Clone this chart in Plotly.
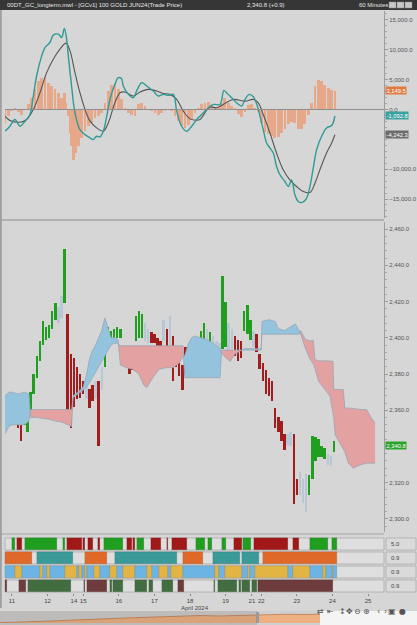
import plotly.graph_objects as go

W, H = 417, 625

# hourly bar index: 0 = start of the Apr 11 session, ~23 bars per trading day
day_ticks = [0, 23, 40, 46, 69, 92, 115, 138, 155, 161, 184, 207, 230]
day_labels = ["11", "12", "14", "15", "16", "17", "18", "19", "21", "22", "23", "24", "25"]

# price bars (every second hour), paint-bar state: g = up, r = down, b = neutral
bar_x = list(range(-4, 210, 2))
bar_low = [2353, 2354, 2356, 2355, 2350, 2343, 2352, 2348, 2358, 2369,
           2378, 2387, 2396, 2399, 2400, 2405, 2410, 2408, 2411, 2419,
           2360, 2350, 2362, 2366, 2367, 2369, 2366, 2361, 2365, 2366,
           2340, 2371, 2384, 2396, 2397, 2398, 2400, 2400, 2385, 2384,
           2380, 2382, 2398, 2400, 2400, 2398, 2397, 2397, 2397, 2392,
           2391, 2398, 2395, 2394, 2376, 2384, 2379, 2371, 2380, 2383,
           2387, 2390, 2391, 2393, 2396, 2394, 2392, 2392, 2389, 2390,
           2394, 2395, 2393, 2394, 2390, 2387, 2389, 2404, 2402, 2399,
           2395, 2392, 2383, 2376, 2369, 2368, 2365, 2350, 2348, 2343,
           2338, 2341, 2340, 2308, 2313, 2313, 2309, 2304, 2313, 2322,
           2332, 2334, 2334, 2333, 2330, 2329, 2337]
bar_high = [2362, 2361, 2363, 2361, 2358, 2352, 2362, 2360, 2370, 2380,
            2390, 2398, 2409, 2406, 2407, 2415, 2419, 2417, 2423, 2449,
            2413, 2391, 2389, 2384, 2380, 2376, 2374, 2372, 2374, 2376,
            2376, 2384, 2398, 2406, 2404, 2405, 2406, 2405, 2395, 2393,
            2389, 2395, 2412, 2415, 2413, 2408, 2405, 2403, 2402, 2400,
            2398, 2410, 2405, 2412, 2401, 2393, 2388, 2385, 2395, 2393,
            2396, 2399, 2398, 2404, 2408, 2405, 2403, 2401, 2398, 2397,
            2434, 2420, 2408, 2405, 2401, 2399, 2398, 2415, 2418, 2410,
            2404, 2402, 2391, 2386, 2382, 2378, 2376, 2361, 2356, 2354,
            2347, 2347, 2348, 2347, 2322, 2326, 2322, 2325, 2324, 2346,
            2345, 2344, 2340, 2339, 2336, 2335, 2343]
bar_state = ("bbggrrgggg" "gggggggbbg" "rrrrrrbrrb" "rbggggggbb" "rrgggbbrrr"
             "rbrbrrrrrb" "bggggbgbbb" "ggbbrrrggg" "brrrrrrrrr" "rbbrrbbbgg" "ggggbbg")
last_price = 2340.8

# ichimoku cloud: span A / span B (shifted 26 bars forward)
cloud_x = [-4.5, -2, 0, 4, 8, 11, 12, 16, 20, 24, 28, 32, 36, 38.5, 39.5, 44, 46, 48, 50,
           52, 54, 56, 58, 60, 62, 64, 66, 68.5, 70, 74, 78, 82, 85, 87, 91, 95, 100, 104,
           108, 110.5, 111.5, 114, 116, 118, 122, 126, 130, 134.4, 135.4, 138, 141, 144,
           148, 150, 156, 161, 161.5, 166, 170, 172, 176, 180, 183, 185.5, 186.5, 189.3,
           192, 194.7, 195.7, 198, 201, 205.4, 207.4, 207.8, 208.7, 214, 215, 217.3,
           220.5, 224.8, 229, 232, 234.5]
span_a = [2368, 2370, 2370, 2369, 2370, 2369, 2356, 2356, 2355.5, 2355, 2354, 2353.5, 2352,
          2351, 2368, 2371, 2373, 2379, 2388, 2393, 2396, 2400, 2404, 2411, 2406, 2400, 2400,
          2399, 2385, 2383.5, 2382.6, 2380, 2374, 2372.4, 2378, 2382.6, 2383.5, 2383.5, 2386,
          2390, 2390, 2397, 2400, 2401, 2400, 2399, 2397, 2394, 2391.5, 2389, 2387, 2391,
          2393, 2394, 2394, 2393.8, 2409, 2410, 2409, 2405, 2404, 2406, 2407.6, 2404, 2402,
          2394.7, 2389, 2385.4, 2383, 2376, 2372.4, 2367.8, 2358, 2356, 2346.5, 2339, 2337,
          2330.8, 2328, 2329.8, 2330.8, 2330.8, 2330.8]
span_b = [2347, 2351, 2352, 2352, 2352, 2354, 2360.4, 2360.4, 2360.4, 2360.4, 2360.4, 2360.4,
          2360.4, 2360.4, 2367, 2370, 2371, 2373, 2375, 2378, 2381, 2384, 2387, 2390, 2393,
          2396, 2397, 2397, 2395.6, 2395.6, 2395.6, 2395.6, 2395.6, 2395.6, 2395.6, 2395.6,
          2395.6, 2395.6, 2395.6, 2395.6, 2378, 2378, 2378, 2378, 2378, 2378, 2378, 2378,
          2393.2, 2393.2, 2393.2, 2393.2, 2393.2, 2393.2, 2393.2, 2393.2, 2402, 2402, 2402,
          2402, 2402, 2402, 2402, 2402, 2404, 2399.3, 2398.4, 2398.4, 2388, 2387.3, 2387.3,
          2387.3, 2387, 2371.5, 2371.5, 2371.5, 2361.3, 2361.3, 2361, 2360.4, 2360.4, 2356,
          2353]

# MACD line, signal line and histogram
macd_x = [-4.5, -1.3, 1.9, 5.2, 8.4, 11.6, 13.8, 15.9, 19.2, 21.3, 24.5, 26.7, 29.9, 32.1,
          33.8, 35.3, 36.4, 38.5, 40.7, 43.9, 47.2, 50.4, 52.5, 54.7, 56.8, 59.0, 61.2, 63.3,
          66.5, 68.7, 70.8, 71.9, 75.2, 78.4, 80.5, 83.8, 87.0, 91.3, 94.5, 97.8, 101.0,
          104.2, 106.4, 109.6, 112.8, 116.1, 119.3, 121.4, 125.7, 130.0, 134.3, 136.9,
          138.6, 141.9, 145.1, 148.3, 150.5, 153.3, 155.9, 158.4, 160.2, 162.3, 164.5,
          166.6, 168.8, 170.9, 173.1, 176.3, 178.5, 180.6, 182.8, 184.9, 187.1, 189.9,
          192.0, 194.6, 196.8, 200.0, 203.2, 206.5, 208.6]
macd_v = [-3650, -2800, -1680, -2800, -1960, -840, 2250, 5610, 8980, 10380, 11220, 12460,
          12630, 12070, 13580, 11790, 8980, 3930, -560, -3370, -4210, -4770, -5050, -4490,
          -4600, -3650, -1120, 1680, 4210, 5330, 5160, 3930, 2530, 1960, 3090, 4490, 3930,
          3090, 2250, 2530, 2360, 2530, -280, -2810, -3650, -2810, -1680, -1120, 0, 840, 840,
          3200, 2810, 1960, 1120, 560, 1680, 2530, 2130, 670, -1120, -3370, -5610, -6450,
          -7300, -9540, -10940, -12070, -12910, -11790, -14310, -15430, -15600, -15040,
          -13470, -9820, -6730, -4490, -3090, -2690, -1092.8]
sig_x = [-4.5, -1.3, 5.2, 9.5, 13.8, 18.1, 22.4, 26.7, 31.0, 34.9, 37.5, 40.7, 43.9, 47.2,
         50.4, 54.7, 59.0, 62.2, 66.5, 69.8, 73.0, 78.4, 82.7, 88.1, 93.5, 97.8, 102.1,
         106.4, 110.7, 115.0, 119.3, 121.4, 127.9, 132.2, 137.5, 142.9, 150.5, 155.9, 159.1,
         162.3, 166.6, 170.9, 175.2, 179.5, 183.8, 188.2, 192.5, 195.7, 198.9, 203.2, 206.5,
         208.6]
sig_v = [-1120, -1850, -2130, -1680, 0, 2810, 6170, 8420, 10100, 11110, 9820, 6170, 2810, 0,
         -1960, -3090, -3650, -2250, 1120, 2810, 2920, 2250, 2920, 3370, 3090, 2690, 2530,
         1680, -280, -1570, -1800, -1680, 400, 280, 1010, 1680, 1400, 1680, 1120, -840, -3930,
         -7300, -10100, -11790, -12910, -13750, -13920, -12350, -10100, -7300, -5610, -4242.3]
hist_x = [-4.5, -2.4, -0.2, 1.9, 4.1, 6.2, 8.4, 10.6, 12.7, 14.9, 17.0, 19.2, 21.3, 23.5,
          25.6, 27.8, 29.9, 32.1, 33.8, 34.9, 36.4, 37.5, 38.5, 39.6, 41.3, 42.9, 45.0, 47.2,
          49.3, 51.5, 53.6, 55.8, 57.9, 60.1, 62.2, 64.4, 66.5, 68.7, 70.8, 73.0, 75.2, 77.3,
          79.5, 81.6, 83.8, 85.9, 88.1, 90.2, 92.4, 94.5, 96.7, 98.8, 101.0, 103.1, 105.3,
          107.5, 109.6, 111.8, 113.9, 116.1, 118.2, 120.4, 122.5, 124.7, 126.8, 128.9, 131.1,
          133.2, 135.4, 137.5, 139.7, 141.9, 144.0, 146.2, 148.3, 150.5, 152.6, 154.8, 156.9,
          159.1, 161.2, 163.4, 165.5, 167.7, 169.8, 172.0, 174.1, 176.3, 178.4, 180.6, 182.7,
          184.9, 187.0, 189.2, 191.3, 193.5, 195.7, 197.8, 200.0, 202.1, 204.3, 206.4, 208.6]
hist_v = [-2245, -1122, -281, 112, -449, -842, 0, 842, 1964, 3367, 4770, 5331, 5500, 4490,
          3928, 3367, 2806, 1964, 2806, 1122, -1122, -3928, -6173, -8418, -7295, -6173, -4770,
          -3648, -2806, -2245, -1403, -1122, -561, 1122, 3086, 4041, 4209, 3367, 1684, 281,
          -561, -842, -1122, 842, 1122, 561, 0, -281, -561, -842, -561, -281, 0, -281, -1122,
          -1964, -2806, -3086, -2525, -1684, -561, 281, 842, 1122, 1300, 600, 300, 450, 1100,
          1900, 1100, 500, 100, -700, -1234, -400, 800, 1000, 250, -500, -2300, -3800, -4100,
          -4400, -4770, -4600, -4000, -3300, -2500, -2100, -2300, -3200, -3300, -2400, -900,
          1100, 4000, 5000, 4800, 4100, 3600, 3200, 3149.5]

# indicator strips: (start, end, state) in bar index units
strip1 = [(-0.2, 1.9, "g"), (3.0, 6.3, "r"), (8.4, 28.9, "g"), (33.1, 34.2, "g"),
          (35.3, 45.0, "r"), (46.1, 47.2, "r"), (49.3, 52.5, "r"), (55.7, 56.8, "r"),
          (59.4, 71.5, "g"), (74.5, 77.3, "r"), (78.4, 79.5, "r"), (80.6, 85.3, "g"),
          (89.6, 96.3, "r"), (99.9, 101.0, "r"), (103.2, 112.9, "r"), (118.7, 124.7, "g"),
          (126.8, 129.4, "g"), (135.5, 138.2, "g"), (143.6, 148.4, "r"), (149.4, 154.4, "g"),
          (156.5, 178.5, "r"), (181.3, 185.6, "r"), (192.5, 204.3, "g"), (206.5, 209.8, "g")]
strip2 = [(-4.5, 13.1, "o"), (16.3, 39.2, "t"), (47.2, 61.2, "o"), (66.5, 106.4, "t"),
          (110.7, 123.6, "o"), (129.7, 147.3, "t"), (148.4, 159.6, "t"), (162.3, 209.8, "o")]
strip3 = [(-4.5, 1.9, "b"), (1.9, 6.3, "y"), (6.3, 18.1, "b"), (18.1, 19.8, "y"),
          (19.8, 22.4, "b"), (22.4, 24.5, "y"), (24.5, 34.2, "b"), (34.2, 41.8, "y"),
          (41.8, 43.3, "b"), (43.3, 45.0, "y"), (45.0, 47.2, "b"), (47.2, 48.6, "y"),
          (48.6, 53.0, "b"), (53.0, 56.8, "y"), (56.8, 63.3, "b"), (63.3, 67.6, "y"),
          (67.6, 71.5, "b"), (71.5, 79.5, "y"), (79.5, 87.0, "b"), (87.0, 90.2, "y"),
          (90.2, 95.2, "b"), (95.2, 101.0, "y"), (101.0, 102.5, "b"), (102.5, 110.3, "y"),
          (110.3, 131.1, "b"), (131.1, 133.9, "y"), (133.9, 137.6, "b"), (137.6, 148.4, "y"),
          (148.4, 152.6, "b"), (152.6, 153.7, "y"), (153.7, 157.0, "b"), (157.0, 178.5, "y"),
          (178.5, 181.3, "b"), (181.3, 192.5, "y"), (192.5, 201.1, "b"), (201.1, 202.8, "y"),
          (202.8, 206.5, "b"), (206.5, 207.6, "y"), (207.6, 209.8, "b")]
strip4 = [(-4.5, -3.0, "m"), (4.5, 9.0, "m"), (10.5, 37.9, "d"), (46.5, 47.2, "m"),
          (48.3, 61.6, "m"), (63.3, 64.4, "d"), (65.4, 71.5, "d"), (79.5, 87.0, "d"),
          (88.5, 91.3, "d"), (96.7, 104.2, "d"), (107.4, 111.3, "m"), (130.5, 131.1, "d"),
          (133.3, 145.5, "d"), (146.8, 147.7, "d"), (148.4, 153.7, "d"), (154.8, 158.5, "d"),
          (159.1, 207.6, "m")]
strip_labels = ["5.0", "0.9", "0.9", "0.9"]

# navigator overview series
nav_v = [0.3, 0.7, 1.3, 2.0, 2.7, 3.5, 4.5, 4.7, 5.3, 6.0, 6.7, 7.0, 7.5, 7.0, 7.5, 8.0,
         8.3, 8.7, 8.5, 8.7]

colors = {"g": "#1f9e1f", "r": "#a11c1c", "b": "#b7c7d6", "o": "#e0692a", "t": "#3a9a98",
          "y": "#e2b444", "m": "#6e3c3c", "d": "#416d41"}
strip_colors = {"g": "#1f9e1f", "r": "#a01818", "b": "#6cb4e4"}

BG = "#d6d6d6"
XL, XR = 5 / W, 384 / W


def py(px):
    return 1 - px / H


def cloud_polys(xs, a, b):
    runs = []
    cur = [(xs[0], a[0], b[0])]
    up = a[0] >= b[0]
    for i in range(1, len(xs)):
        u = a[i] >= b[i]
        if u != up:
            d0, d1 = a[i - 1] - b[i - 1], a[i] - b[i]
            t = d0 / (d0 - d1)
            xc = xs[i - 1] + t * (xs[i] - xs[i - 1])
            yc = a[i - 1] + t * (a[i] - a[i - 1])
            cur.append((xc, yc, yc))
            runs.append((up, cur))
            cur = [(xc, yc, yc)]
            up = u
        cur.append((xs[i], a[i], b[i]))
    runs.append((up, cur))
    return runs


fig = go.Figure()

# ---- MACD panel
fig.add_trace(go.Bar(x=hist_x, y=hist_v, width=1.8, marker=dict(color="#e7a88a", line=dict(width=0)),
                     xaxis="x", yaxis="y", showlegend=False))
fig.add_trace(go.Scatter(x=sig_x, y=sig_v, mode="lines", line=dict(color="#555555", width=1.1, shape="spline"),
                         xaxis="x", yaxis="y", showlegend=False))
fig.add_trace(go.Scatter(x=macd_x, y=macd_v, mode="lines", line=dict(color="#2f9a97", width=1.4, shape="spline"),
                         xaxis="x", yaxis="y", showlegend=False))

# ---- price panel: cloud then bars
for up, run in cloud_polys(cloud_x, span_a, span_b):
    xs = [p[0] for p in run] + [p[0] for p in run][::-1]
    ys = [p[1] for p in run] + [p[2] for p in run][::-1]
    fig.add_trace(go.Scatter(x=xs, y=ys, fill="toself", mode="lines", line=dict(width=0),
                             fillcolor="#93c3dd" if up else "#e3a1a1",
                             xaxis="x", yaxis="y2", showlegend=False, hoverinfo="skip"))
for span in (span_a, span_b):
    fig.add_trace(go.Scatter(x=cloud_x, y=span, mode="lines", line=dict(color="rgba(150,165,180,0.75)", width=1),
                             xaxis="x", yaxis="y2", showlegend=False, hoverinfo="skip"))

fig.add_trace(go.Bar(x=bar_x, y=[h - l for h, l in zip(bar_high, bar_low)], base=bar_low, width=1.6,
                     marker=dict(color=[colors[s] for s in bar_state], line=dict(width=0)),
                     xaxis="x", yaxis="y2", showlegend=False))

# ---- strips
rows = ["s1", "s2", "s3", "s4"]
for row, strip, cmap in zip(rows, [strip1, strip2, strip3, strip4],
                            [strip_colors, colors, {"b": "#6cb4e4", "y": "#e2b444"}, colors]):
    fig.add_trace(go.Bar(y=[row] * len(strip), x=[e - s for s, e, _ in strip], base=[s for s, _, _ in strip],
                         orientation="h", width=0.8,
                         marker=dict(color=[cmap[c] for _, _, c in strip], line=dict(width=0.4, color="rgba(60,60,60,0.35)")),
                         xaxis="x", yaxis="y3", showlegend=False))

# ---- navigator
fig.add_trace(go.Scatter(x=list(range(len(nav_v))), y=nav_v, mode="lines", fill="tozeroy",
                         line=dict(color="#c98a5e", width=1), fillcolor="#efb184",
                         xaxis="x2", yaxis="y4", showlegend=False))

shapes = [
    dict(type="rect", xref="paper", yref="paper", x0=0, x1=1, y0=py(10), y1=1,
         fillcolor="#363636", line=dict(width=0)),
    dict(type="line", xref="x domain", yref="y", x0=0, x1=1, y0=0, y1=0,
         line=dict(color="#8e8e8e", width=1)),
    dict(type="line", xref="paper", yref="paper", x0=0, x1=XR, y0=py(220), y1=py(220),
         line=dict(color="#a6a6a6", width=1.5)),
    dict(type="line", xref="paper", yref="paper", x0=0, x1=XR, y0=py(534), y1=py(534),
         line=dict(color="#a6a6a6", width=1)),
    dict(type="line", xref="paper", yref="paper", x0=0.002, x1=0.002, y0=py(608), y1=py(10),
         line=dict(color="#a0a0a0", width=2)),
    dict(type="rect", xref="paper", yref="paper", x0=0, x1=320 / W, y0=py(625), y1=py(611),
         fillcolor="#cfcfcf", line=dict(width=0), layer="below"),
    dict(type="rect", xref="paper", yref="paper", x0=0, x1=257 / W, y0=py(625), y1=py(611),
         fillcolor="rgba(80,60,50,0.13)", line=dict(width=0)),
    dict(type="rect", xref="paper", yref="paper", x0=256 / W, x1=259 / W, y0=py(623), y1=py(612),
         fillcolor="#9a9a9a", line=dict(width=0)),
    dict(type="rect", xref="paper", yref="paper", x0=320 / W, x1=1, y0=0, y1=py(611),
         fillcolor="#f4f4f4", line=dict(width=0)),
]
for i, row in enumerate(rows):
    shapes.append(dict(type="rect", xref="paper", yref="y3", x0=XL, x1=XR, y0=i - 0.43, y1=i + 0.43,
                       fillcolor="#dedede", line=dict(color="#b4b4b4", width=1), layer="below"))
    shapes.append(dict(type="rect", xref="paper", yref="y3", x0=386 / W, x1=416 / W, y0=i - 0.43, y1=i + 0.43,
                       fillcolor="#dadada", line=dict(color="#b4b4b4", width=1), layer="below"))
for k, x0 in enumerate([389, 397, 405]):
    shapes.append(dict(type="rect", xref="paper", yref="paper", x0=x0 / W, x1=(x0 + 7) / W,
                       y0=py(8), y1=py(2), fillcolor="#c8c8c8", line=dict(color="#8a8a8a", width=0.5)))

FONT = "Liberation Sans"
ann = [
    dict(text="00DT_GC_longterm.mwl - [GCv1] 100 GOLD JUN24(Trade Price)", x=5 / W, y=py(5.2),
         xanchor="left", font=dict(size=6, color="#e6e6e6")),
    dict(text="2,340.8 (+0.9)", x=245 / W, y=py(5.2), xanchor="left", font=dict(size=6, color="#e6e6e6")),
    dict(text="60 Minutes", x=357 / W, y=py(5.2), xanchor="left", font=dict(size=6, color="#e6e6e6")),
    dict(text="April 2024", x=195 / W, y=py(607.5), xanchor="center", font=dict(size=6, color="#444")),
]
for a in ann:
    a.update(xref="paper", yref="paper", showarrow=False, yanchor="middle")
    a["font"]["family"] = FONT


def tag(text, y, yref, bg):
    return dict(text=text, x=385 / W, xref="paper", y=y, yref=yref, xanchor="left", yanchor="middle",
                showarrow=False, bgcolor=bg, borderpad=0.5,
                font=dict(size=5.8, color="white", family=FONT))


ann += [
    tag(f"{hist_v[-1]:,.1f}", hist_v[-1], "y", "#e07a43"),
    tag(f"{macd_v[-1]:,.1f}", macd_v[-1], "y", "#3aa2a0"),
    tag(f"{sig_v[-1]:,.1f}", sig_v[-1], "y", "#6c6c6c"),
    tag(f"{last_price:,.1f}", last_price, "y2", "#2aa32a"),
]
for i, lab in enumerate(strip_labels):
    ann.append(dict(text=lab, x=389 / W, xref="paper", y=rows[i], yref="y3", xanchor="left",
                    showarrow=False, font=dict(size=6, color="#444", family=FONT)))
for ch, xp in zip(["⇄", "⇤", "↕", "✥", "⊖", "⊕", "‹", "›", "▣", "●"],
                  [326, 336, 348, 355, 363, 372, 382, 389, 398, 408]):
    ann.append(dict(text=ch, x=xp / W, y=py(618), xref="paper", yref="paper", showarrow=False,
                    font=dict(size=8, color="#555", family="DejaVu Sans")))

axfont = dict(size=6, color="#555", family=FONT)
fig.update_layout(
    width=W, height=H, margin=dict(l=0, r=0, t=0, b=0),
    paper_bgcolor=BG, plot_bgcolor=BG, barmode="overlay", bargap=0,
    font=dict(family=FONT),
    xaxis=dict(domain=[XL, XR], range=[-4.5, 240.3], anchor="y3", tickmode="array",
               tickvals=day_ticks, ticktext=day_labels, tickangle=0, ticks="outside", ticklen=2,
               tickcolor="#888", tickfont=dict(size=6, color="#444", family=FONT),
               showgrid=False, zeroline=False, showline=False),
    yaxis=dict(domain=[py(218), py(11)], range=[-18182, 16498], side="right", anchor="x",
               tickmode="array", tickvals=[-15000, -10000, 0, 5000, 10000, 15000],
               tickformat=",.1f", ticks="outside", ticklen=3, tickcolor="#999",
               minor=dict(tick0=0, dtick=1000, ticks="outside", ticklen=2, tickcolor="#aaa"),
               showline=True, linecolor="#9e9e9e", showgrid=False, zeroline=False, tickfont=axfont),
    yaxis2=dict(domain=[py(532), py(222)], range=[2292.8, 2463.9], side="right", anchor="x",
                tickmode="array", tickvals=[2300, 2320, 2360, 2380, 2400, 2420, 2440, 2460],
                tickformat=",.1f", ticks="outside", ticklen=3, tickcolor="#999",
                minor=dict(tick0=2300, dtick=4, ticks="outside", ticklen=2, tickcolor="#aaa"),
                showline=True, linecolor="#9e9e9e", showgrid=False, zeroline=False, tickfont=axfont),
    yaxis3=dict(domain=[py(593), py(537)], type="category", categoryorder="array", categoryarray=rows,
                range=[3.5, -0.5], visible=False, anchor="x"),
    xaxis2=dict(domain=[0, 320 / W], range=[0, len(nav_v) - 1], anchor="y4", visible=False),
    yaxis4=dict(domain=[py(623), py(612)], range=[0, 11], anchor="x2", visible=False),
    shapes=shapes, annotations=ann,
)

fig.write_html("out.html", config={"displayModeBar": False},
               post_script="document.body.style.margin='0';document.body.style.padding='0';")
